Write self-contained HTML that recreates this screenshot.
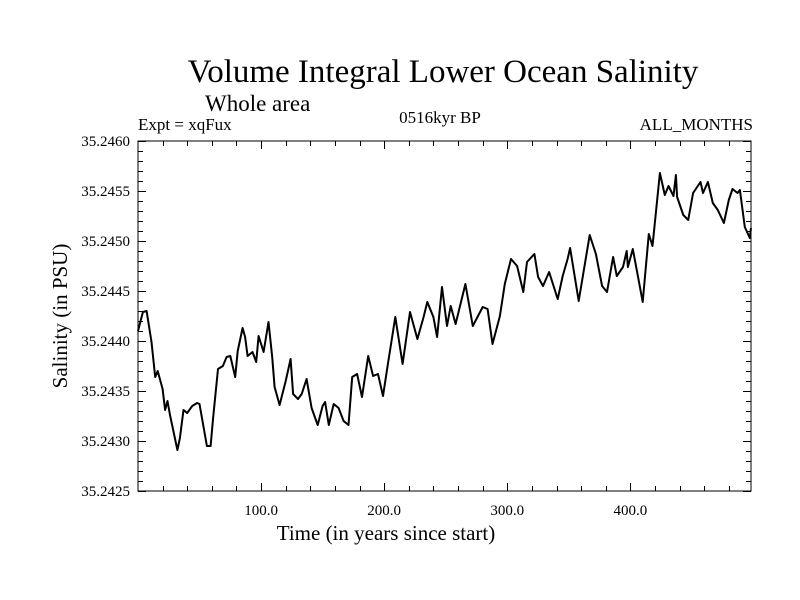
<!DOCTYPE html>
<html><head><meta charset="utf-8"><style>
body{margin:0;background:#fff;}
svg{display:block;font-family:"Liberation Serif",serif;}
</style></head><body>
<svg id="chart" width="800" height="600">
<text x="443" y="82" font-size="33" text-anchor="middle">Volume Integral Lower Ocean Salinity</text>
<text x="205" y="111" font-size="23">Whole area</text>
<text x="138" y="130" font-size="17">Expt = xqFux</text>
<text x="440" y="123" font-size="17" text-anchor="middle">0516kyr BP</text>
<text x="753" y="130" font-size="17" text-anchor="end">ALL_MONTHS</text>
<text x="386" y="540" font-size="21" text-anchor="middle">Time (in years since start)</text>
<text x="0" y="0" font-size="21" text-anchor="middle" transform="translate(67,316) rotate(-90)">Salinity (in PSU)</text>
<g id="axes"></g>
<path id="series" fill="none" stroke="#000" stroke-width="2" stroke-linejoin="round"></path>
<rect x="138" y="141" width="613" height="350" fill="none" stroke="#000" stroke-width="1"></rect>
</svg>
<script>
const years=[0,4,7,11,14,16,20,22,24,26,32,34,37,40,44,48,50,56,59,61,65,69,72,75,79,81,85,87,89,93,96,98,102,106,109,111,115,120,124,126,130,133,137,141,146,150,152,155,159,163,167,171,174,178,182,187,191,195,199,203,209,215,221,227,232,235,240,243,247,251,254,258,266,272,280,284,288,294,298,303,308,313,316,322,325,329,334,341,345,349,351,358,367,372,377,381,386,389,394,397,398,402,407,410,415,418,424,428,431,435,437,438,443,447,451,457,459,463,467,471,476,480,483,487,489,493,497,498];
const salinity=[35.24410,35.24429,35.24430,35.24399,35.24364,35.24370,35.24352,35.24331,35.24340,35.24326,35.24291,35.24303,35.24331,35.24328,35.24335,35.24338,35.24337,35.24295,35.24295,35.24323,35.24372,35.24375,35.24384,35.24385,35.24364,35.24390,35.24413,35.24404,35.24385,35.24389,35.24379,35.24405,35.24389,35.24419,35.24384,35.24354,35.24336,35.24360,35.24382,35.24347,35.24342,35.24347,35.24362,35.24333,35.24316,35.24335,35.24339,35.24316,35.24337,35.24333,35.24320,35.24316,35.24364,35.24367,35.24344,35.24385,35.24365,35.24367,35.24345,35.24377,35.24424,35.24377,35.24429,35.24402,35.24424,35.24439,35.24424,35.24404,35.24454,35.24415,35.24435,35.24417,35.24457,35.24415,35.24434,35.24432,35.24397,35.24425,35.24457,35.24482,35.24475,35.24449,35.24479,35.24487,35.24464,35.24455,35.24469,35.24442,35.24465,35.24482,35.24493,35.24440,35.24506,35.24487,35.24455,35.24449,35.24484,35.24465,35.24474,35.24490,35.24474,35.24492,35.24459,35.24439,35.24507,35.24495,35.24568,35.24546,35.24555,35.24545,35.24566,35.24544,35.24526,35.24521,35.24548,35.24559,35.24548,35.24559,35.24538,35.24531,35.24518,35.24541,35.24552,35.24548,35.24551,35.24514,35.24503,35.24513];
const xTickLabels=["100.0","200.0","300.0","400.0"];
const xTickValues=[100,200,300,400];
const yTickLabels=["35.2425","35.2430","35.2435","35.2440","35.2445","35.2450","35.2455","35.2460"];
const yTickValues=[35.2425,35.2430,35.2435,35.2440,35.2445,35.2450,35.2455,35.2460];
const X0=138,X1=751,Y0=491,Y1=141,XMIN=0,XMAX=498,YMIN=35.2425,YMAX=35.2460;
const sx=v=>X0+(v-XMIN)/(XMAX-XMIN)*(X1-X0);
const sy=v=>Y0-(v-YMIN)/(YMAX-YMIN)*(Y0-Y1);
const NS="http://www.w3.org/2000/svg";
const axes=document.getElementById('axes');
function line(x1,y1,x2,y2,name){const l=document.createElementNS(NS,'line');l.setAttribute('x1',x1);l.setAttribute('y1',y1);l.setAttribute('x2',x2);l.setAttribute('y2',y2);l.setAttribute('stroke','#000');l.setAttribute('stroke-width','1');


axes.appendChild(l);}
for(let v=20;v<XMAX;v+=20){const x=Math.round(sx(v))+0.5;const major=v%100===0;line(x,Y0,x,Y0-(major?8:5),'x-tick');line(x,Y1,x,Y1+(major?8:5),'x-tick-top');}
for(let i=0;i<=35;i++){const v=YMIN+i*0.0001;const y=Math.round(sy(v))+0.5;const major=i%5===0;line(X0,y,X0+(major?8:5),y,'y-tick');line(X1,y,X1-(major?8:5),y,'y-tick-right');}
xTickValues.forEach((v,i)=>{const t=document.createElementNS(NS,'text');t.setAttribute('x',sx(v));t.setAttribute('y',515);t.setAttribute('font-size','15');t.setAttribute('text-anchor','middle');t.textContent=xTickLabels[i];


axes.appendChild(t);});
yTickValues.forEach((v,i)=>{const t=document.createElementNS(NS,'text');t.setAttribute('x',130);t.setAttribute('y',sy(v)+5);t.setAttribute('font-size','15');t.setAttribute('text-anchor','end');t.textContent=yTickLabels[i];


axes.appendChild(t);});
document.getElementById('series').setAttribute('d',years.map((y,i)=>(i?'L':'M')+sx(y).toFixed(1)+','+sy(salinity[i]).toFixed(1)).join(''));
</script>
</body></html>
